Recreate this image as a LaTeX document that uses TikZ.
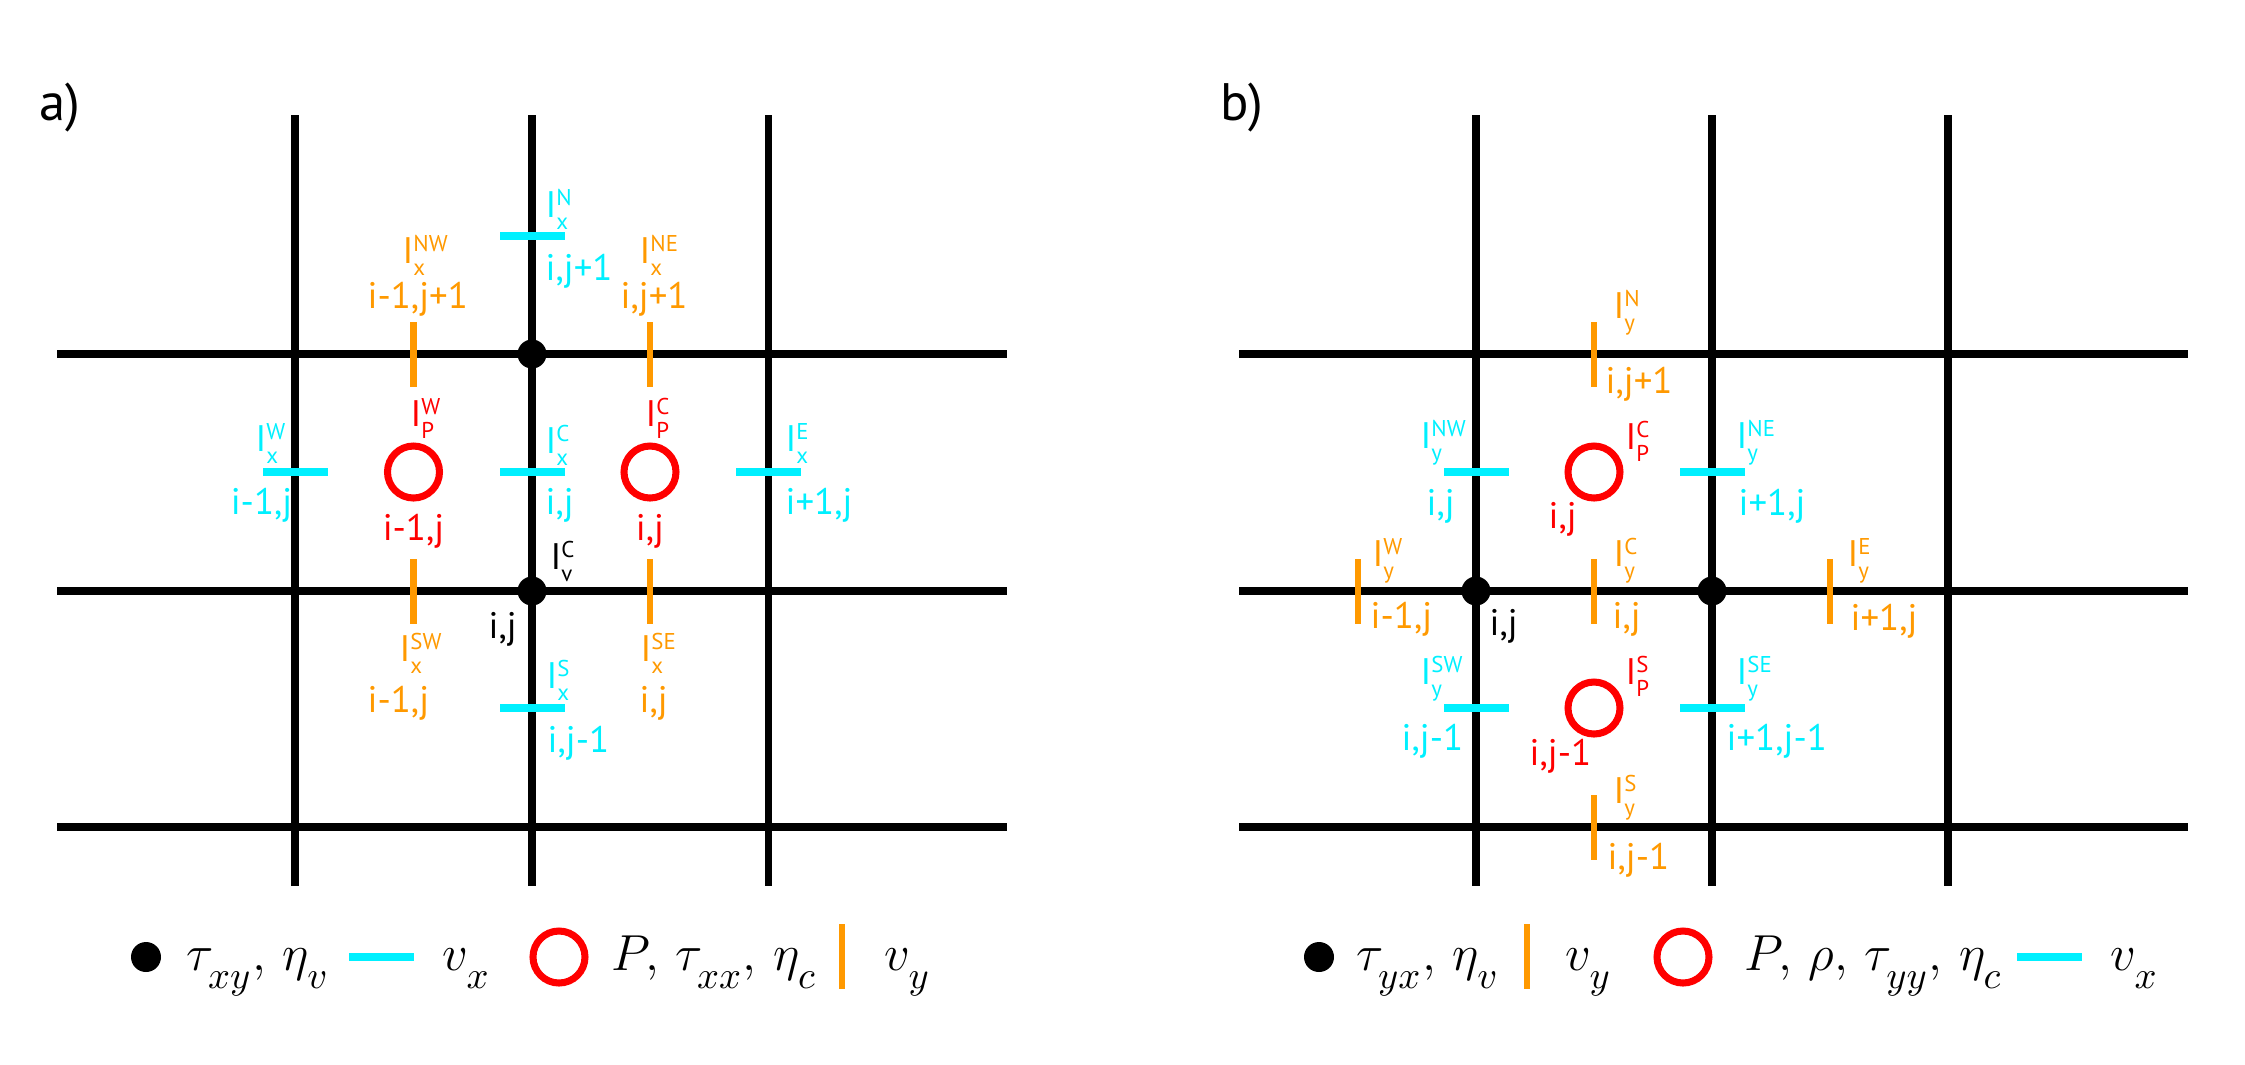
\documentclass[tikz,border=0pt]{standalone}
\usepackage{fontspec}
\setmainfont{PT Sans}
\usepackage{tikz}
\definecolor{vxcyan}{RGB}{0,240,255}
\definecolor{vyorange}{RGB}{255,153,0}
\definecolor{pred}{RGB}{255,0,0}
\newcommand{\Ilab}[2]{I\rlap{\raisebox{3.3pt}{\fontsize{6.5}{6.5}\selectfont #1}}\raisebox{-3.6pt}{\fontsize{6.5}{6.5}\selectfont #2}}
\newcommand{\dsub}[1]{_{\lower3pt\hbox{$\scriptstyle #1$}}}
\tikzset{
  gridline/.style={line width=2.1pt},
  vxbar/.style={rectangle, fill=vxcyan, minimum width=0.65cm, minimum height=0.072cm, inner sep=0pt},
  vybar/.style={rectangle, fill=vyorange, minimum width=0.068cm, minimum height=0.65cm, inner sep=0pt},
  pcirc/.style={circle, draw=pred, line width=2pt, minimum size=0.52cm, inner sep=0pt},
  vdot/.style={circle, fill=black, minimum size=0.29cm, inner sep=0pt},
  lab/.style={inner sep=0pt, anchor=base west, font=\fontsize{10.5}{12}\selectfont},
  leg/.style={inner sep=0pt, anchor=base west, font=\fontsize{15}{18}\selectfont},
}

\begin{document}
\begin{tikzpicture}
    \useasboundingbox (0,0) rectangle (22.45,-10.64);

    % grid a)
    \draw[gridline] (2.95,-1.15) -- (2.95,-8.86) (5.32,-1.15) -- (5.32,-8.86) (7.685,-1.15) -- (7.685,-8.86);
    \draw[gridline] (0.57,-3.54) -- (10.07,-3.54) (0.57,-5.91) -- (10.07,-5.91) (0.57,-8.27) -- (10.07,-8.27);
    % grid b)
    \draw[gridline] (14.76,-1.15) -- (14.76,-8.86) (17.12,-1.15) -- (17.12,-8.86) (19.48,-1.15) -- (19.48,-8.86);
    \draw[gridline] (12.39,-3.54) -- (21.88,-3.54) (12.39,-5.91) -- (21.88,-5.91) (12.39,-8.27) -- (21.88,-8.27);

    \node[lab, font=\fontsize{15}{18}\selectfont] at (0.39,-1.20) (tagA) {a)};
    \node[lab, font=\fontsize{15}{18}\selectfont] at (12.20,-1.20) (tagB) {b)};

    % a) points
    \node[vdot] at (5.32,-3.54) (avN) {};
    \node[vdot] at (5.32,-5.91) (avC) {};
    \node[vxbar] at (5.32,-2.36) (axN) {};
    \node[vxbar] at (2.95,-4.72) (axW) {};
    \node[vxbar] at (5.32,-4.72) (axC) {};
    \node[vxbar] at (7.685,-4.72) (axE) {};
    \node[vxbar] at (5.32,-7.08) (axS) {};
    \node[vybar] at (4.135,-3.54) (ayNW) {};
    \node[vybar] at (6.50,-3.54) (ayNE) {};
    \node[vybar] at (4.135,-5.91) (aySW) {};
    \node[vybar] at (6.50,-5.91) (aySE) {};
    \node[pcirc] at (4.135,-4.72) (apW) {};
    \node[pcirc] at (6.50,-4.72) (apC) {};

    % a) labels
    \node[lab, vxcyan] at (5.45,-2.17) (axNl) {\Ilab{N}{x}};
    \node[lab, vxcyan] at (5.45,-2.80) (axNi) {i,j+1};
    \node[lab, vxcyan] at (2.55,-4.51) (axWl) {\Ilab{W}{x}};
    \node[lab, vxcyan, anchor=base east] at (2.93,-5.14) (axWi) {i-1,j};
    \node[lab, vxcyan] at (5.45,-4.53) (axCl) {\Ilab{C}{x}};
    \node[lab, vxcyan] at (5.45,-5.14) (axCi) {i,j};
    \node[lab, vxcyan] at (7.85,-4.51) (axEl) {\Ilab{E}{x}};
    \node[lab, vxcyan] at (7.85,-5.14) (axEi) {i+1,j};
    \node[lab, vxcyan] at (5.46,-6.88) (axSl) {\Ilab{S}{x}};
    \node[lab, vxcyan] at (5.47,-7.52) (axSi) {i,j-1};

    \node[lab, vyorange] at (4.02,-2.63) (ayNWl) {\Ilab{NW}{x}};
    \node[lab, vyorange] at (3.67,-3.08) (ayNWi) {i-1,j+1};
    \node[lab, vyorange] at (6.39,-2.63) (ayNEl) {\Ilab{NE}{x}};
    \node[lab, vyorange] at (6.20,-3.08) (ayNEi) {i,j+1};
    \node[lab, vyorange] at (3.99,-6.61) (aySWl) {\Ilab{SW}{x}};
    \node[lab, vyorange] at (3.67,-7.12) (aySWi) {i-1,j};
    \node[lab, vyorange] at (6.40,-6.61) (aySEl) {\Ilab{SE}{x}};
    \node[lab, vyorange] at (6.39,-7.12) (aySEi) {i,j};

    \node[lab, pred] at (4.10,-4.26) (apWl) {\Ilab{W}{P}};
    \node[lab, pred, anchor=base] at (4.135,-5.40) (apWi) {i-1,j};
    \node[lab, pred] at (6.45,-4.26) (apCl) {\Ilab{C}{P}};
    \node[lab, pred, anchor=base] at (6.50,-5.40) (apCi) {i,j};

    \node[lab] at (5.50,-5.69) (avCl) {\Ilab{C}{v}};
    \node[lab] at (4.88,-6.38) (avCi) {i,j};

    % b) points
    \node[vdot] at (14.76,-5.91) (bvW) {};
    \node[vdot] at (17.12,-5.91) (bvE) {};
    \node[vxbar] at (14.76,-4.72) (bxNW) {};
    \node[vxbar] at (17.12,-4.72) (bxNE) {};
    \node[vxbar] at (14.76,-7.08) (bxSW) {};
    \node[vxbar] at (17.12,-7.08) (bxSE) {};
    \node[vybar] at (15.94,-3.54) (byN) {};
    \node[vybar] at (13.58,-5.91) (byW) {};
    \node[vybar] at (15.94,-5.91) (byC) {};
    \node[vybar] at (18.30,-5.91) (byE) {};
    \node[vybar] at (15.94,-8.27) (byS) {};
    \node[pcirc] at (15.94,-4.72) (bpC) {};
    \node[pcirc] at (15.94,-7.08) (bpS) {};

    % b) labels
    \node[lab, vyorange] at (16.13,-3.18) (byNl) {\Ilab{N}{y}};
    \node[lab, vyorange] at (16.05,-3.93) (byNi) {i,j+1};
    \node[lab, vyorange] at (13.72,-5.66) (byWl) {\Ilab{W}{y}};
    \node[lab, vyorange] at (13.70,-6.28) (byWi) {i-1,j};
    \node[lab, vyorange] at (16.13,-5.66) (byCl) {\Ilab{C}{y}};
    \node[lab, vyorange] at (16.12,-6.28) (byCi) {i,j};
    \node[lab, vyorange] at (18.47,-5.66) (byEl) {\Ilab{E}{y}};
    \node[lab, vyorange] at (18.50,-6.30) (byEi) {i+1,j};
    \node[lab, vyorange] at (16.13,-8.03) (bySl) {\Ilab{S}{y}};
    \node[lab, vyorange] at (16.07,-8.69) (bySi) {i,j-1};

    \node[lab, vxcyan] at (14.20,-4.48) (bxNWl) {\Ilab{NW}{y}};
    \node[lab, vxcyan] at (14.26,-5.15) (bxNWi) {i,j};
    \node[lab, vxcyan] at (17.36,-4.48) (bxNEl) {\Ilab{NE}{y}};
    \node[lab, vxcyan] at (17.38,-5.15) (bxNEi) {i+1,j};
    \node[lab, vxcyan] at (14.20,-6.84) (bxSWl) {\Ilab{SW}{y}};
    \node[lab, vxcyan] at (14.01,-7.50) (bxSWi) {i,j-1};
    \node[lab, vxcyan] at (17.36,-6.84) (bxSEl) {\Ilab{SE}{y}};
    \node[lab, vxcyan] at (17.26,-7.50) (bxSEi) {i+1,j-1};

    \node[lab, pred] at (16.25,-4.49) (bpCl) {\Ilab{C}{P}};
    \node[lab, pred] at (15.48,-5.28) (bpCi) {i,j};
    \node[lab, pred] at (16.25,-6.84) (bpSl) {\Ilab{S}{P}};
    \node[lab, pred] at (15.29,-7.65) (bpSi) {i,j-1};

    \node[lab] at (14.89,-6.35) (bvWi) {i,j};

    % legends
    \node[vdot, minimum size=0.30cm] at (1.46,-9.57) (lgAv) {};
    \node[leg] at (1.86,-9.70) (lgAvt) {$\tau\dsub{xy},\, \eta\dsub{v}$};
    \node[vxbar] at (3.815,-9.57) (lgAx) {};
    \node[leg] at (4.42,-9.70) (lgAxt) {$v\dsub{x}$};
    \node[pcirc] at (5.59,-9.57) (lgAp) {};
    \node[leg] at (6.11,-9.70) (lgApt) {$P,\, \tau\dsub{xx},\, \eta\dsub{c}$};
    \node[vybar] at (8.42,-9.56) (lgAy) {};
    \node[leg] at (8.84,-9.70) (lgAyt) {$v\dsub{y}$};

    \node[vdot, minimum size=0.30cm] at (13.19,-9.57) (lgBv) {};
    \node[leg] at (13.56,-9.70) (lgBvt) {$\tau\dsub{yx},\, \eta\dsub{v}$};
    \node[vybar] at (15.27,-9.56) (lgBy) {};
    \node[leg] at (15.65,-9.70) (lgByt) {$v\dsub{y}$};
    \node[pcirc] at (16.83,-9.57) (lgBp) {};
    \node[leg] at (17.44,-9.70) (lgBpt) {$P,\, \rho,\, \tau\dsub{yy},\, \eta\dsub{c}$};
    \node[vxbar] at (20.495,-9.57) (lgBx) {};
    \node[leg] at (21.10,-9.70) (lgBxt) {$v\dsub{x}$};
\end{tikzpicture}
\end{document}
